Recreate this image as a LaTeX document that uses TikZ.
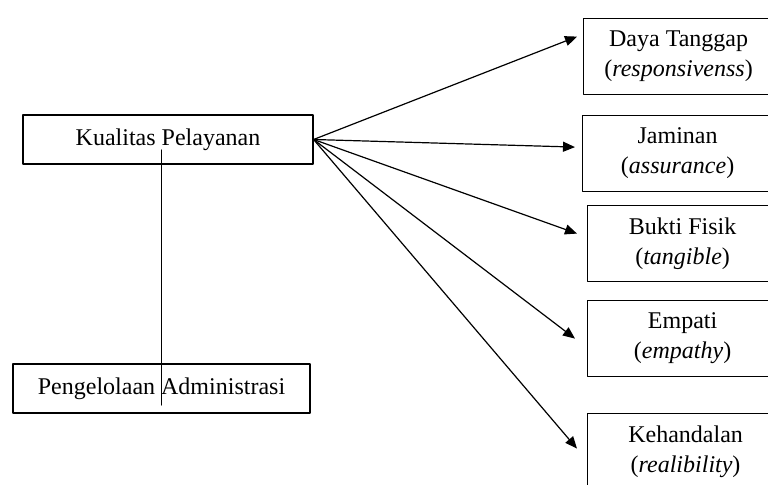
\documentclass[tikz,border=0pt]{standalone}
\usepackage{fontspec}
\setmainfont{Liberation Serif}
\usepackage{tikz}
\usetikzlibrary{arrows.meta}
\usetikzlibrary{calc}

\begin{document}
\begin{tikzpicture}[line cap=round,line join=round,>={Triangle[length=6pt,width=5pt]},x=0.5pt,y=-0.5pt,
  box/.style={draw,line width=0.6pt,rectangle,inner sep=0pt,font=\fontsize{12}{15}\selectfont},
  dimbox/.style={box,anchor=north west,minimum width=95pt,minimum height=38pt,align=center}]
\useasboundingbox (0,0) rectangle (768,485);
\clip (0,0) rectangle (768,485);
% left side
\node[box,minimum width=145pt,minimum height=24.5pt] (kp) at (168,139.5) {Kualitas Pelayanan};
\node[box,minimum width=148.5pt,minimum height=24.5pt] (pa) at (161.5,388.5) {Pengelolaan Administrasi};
% dimensions (right side, cut off by the frame)
\node[dimbox] (dt) at (583,18) {Daya Tanggap\\(\textit{responsivenss})};
\node[dimbox] (jm) at (582,115) {Jaminan\\(\textit{assurance})};
\node[dimbox] (bf) at (587,205) {Bukti Fisik\\(\textit{tangible})};
\node[dimbox] (em) at (587,300) {Empati\\(\textit{empathy})};
\node[dimbox,minimum width=98pt] (kh) at (587,413) {Kehandalan\\(\textit{realibility})};
%
\draw [line width=0.6pt] ($(pa.center |- kp.center)+(0,10.5)$) -- ($(pa.center)+(0,16.5)$);
\draw [->,line width=0.6pt] (kp.east) -- ([shift={(-6,-20)}]dt.west);
\draw [->,line width=0.6pt] (kp.east) -- ([shift={(-7,-6.5)}]jm.west);
\draw [->,line width=0.6pt] (kp.east) -- ([shift={(-10,-10)}]bf.west);
\draw [->,line width=0.6pt] (kp.east) -- ([shift={(-12,0)}]em.west);
\draw [->,line width=0.6pt] (kp.east) -- ([shift={(-10,-3)}]kh.west);
\end{tikzpicture}
\end{document}
